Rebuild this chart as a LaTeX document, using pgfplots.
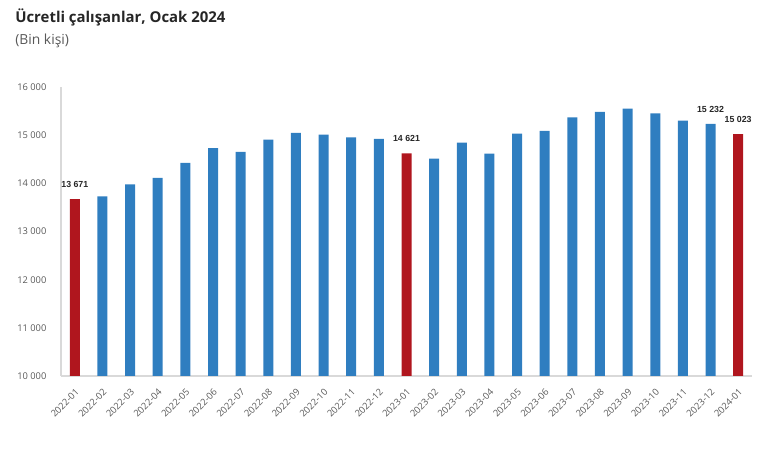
\documentclass[border=0pt]{standalone}
\usepackage{fontspec}
\setmainfont{Open Sans}
\newfontfamily\labfont{Liberation Sans}
\usepackage{pgfplots}
\pgfplotsset{compat=1.18}
\definecolor{barblue}{RGB}{47,126,192}
\definecolor{barred}{RGB}{176,22,30}
\definecolor{ticktxt}{RGB}{89,89,89}
\definecolor{titletxt}{RGB}{38,38,38}
\begin{document}
\begin{tikzpicture}
\path[use as bounding box] (0,0) rectangle (570pt,339pt);
\node[anchor=base west, font=\fontsize{11.2pt}{13pt}\selectfont\bfseries, text=titletxt, inner sep=0pt]
  at (11.25pt,322pt) {Ücretli çalışanlar, Ocak 2024};
\node[anchor=base west, font=\fontsize{10.4pt}{12pt}\selectfont, text=ticktxt, inner sep=0pt]
  at (11.25pt,305.6pt) {(Bin kişi)};
\begin{axis}[
    at={(45.75pt,57pt)}, anchor=south west,
    scale only axis,
    width=518.25pt, height=216.75pt,
    ybar, bar shift=0pt, bar width=7.5pt,
    xmin=-0.5, xmax=24.5,
    ymin=10000, ymax=16000,
    xtick={0,...,24},
    xticklabels={2022-01,2022-02,2022-03,2022-04,2022-05,2022-06,2022-07,2022-08,2022-09,2022-10,2022-11,2022-12,2023-01,2023-02,2023-03,2023-04,2023-05,2023-06,2023-07,2023-08,2023-09,2023-10,2023-11,2023-12,2024-01},
    ytick={10000,11000,12000,13000,14000,15000,16000},
    scaled y ticks=false,
    major tick length=0pt,
    axis x line*=bottom, axis y line*=left,
    axis line style={-, draw=black!15, line width=0.8pt},
    /pgf/number format/.cd, 1000 sep={\ }, assume math mode=true, /pgfplots/.cd,
    tick label style={font=\fontsize{7pt}{8pt}\selectfont, text=ticktxt},
    yticklabel style={xshift=-7.4pt},
    xticklabel style={inner sep=0pt, xshift=1.9pt, yshift=-10.9pt, rotate=45, anchor=east},
    nodes near coords style={font=\labfont\fontsize{6.6pt}{7pt}\selectfont\bfseries, text=titletxt, anchor=center, yshift=10.9pt},
]
% blue bars
\addplot[fill=barblue, draw=none] coordinates {
  (1,13728) (2,13977) (3,14112) (4,14424) (5,14730) (6,14652)
  (7,14906) (8,15047) (9,15010) (10,14952) (11,14922)
  (13,14515) (14,14844) (15,14615) (16,15031) (17,15087)
  (18,15370) (19,15482) (20,15551) (21,15453) (22,15301) (23,15232)
};
% red bars (January)
\addplot[fill=barred, draw=none, nodes near coords] coordinates {
  (0,13671) (12,14621) (24,15023)
};
% label of 2023-12
\addplot[draw=none, fill=none, nodes near coords] coordinates {
  (23,15232)
};
\end{axis}
\end{tikzpicture}
\end{document}
